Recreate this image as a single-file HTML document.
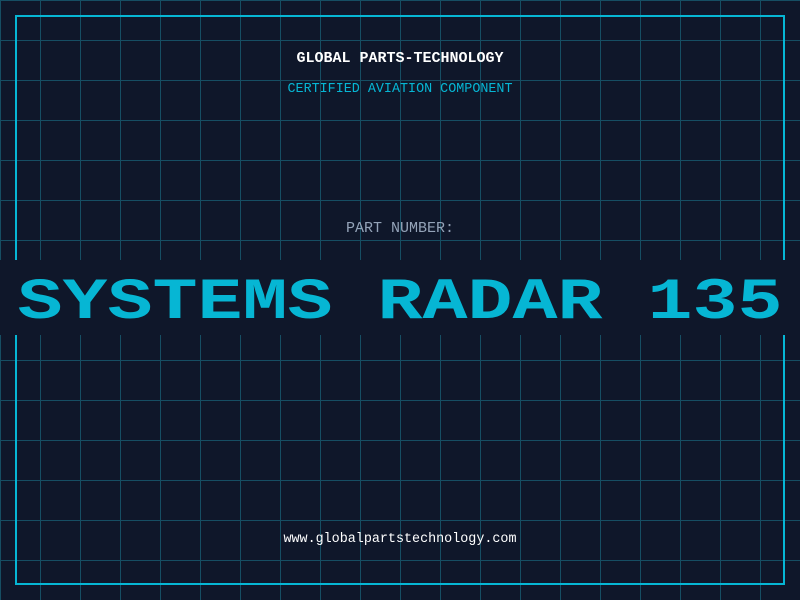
<!DOCTYPE html>
<html><head><meta charset="utf-8"><style>
html,body{margin:0;padding:0;}
body{width:800px;height:600px;background:#0f172a;position:relative;overflow:hidden;font-family:"Liberation Mono",monospace;}
.grid{position:absolute;inset:0;background-image:linear-gradient(to right,#164e63 0,#164e63 1px,transparent 1px),linear-gradient(to bottom,#164e63 0,#164e63 1px,transparent 1px);background-size:40px 40px;background-position:0 0;}
.border{position:absolute;left:15px;top:15px;width:766px;height:566px;border:2px solid #06b6d4;}
.t{position:absolute;left:0;width:800px;text-align:center;white-space:pre;}
.band{position:absolute;left:0;top:260px;width:800px;height:75px;background:#0f172a;}
</style></head><body>
<div class="grid"></div>
<div class="border"></div>
<div class="t" style="top:50px;font-size:15px;color:#ffffff;font-weight:bold;">GLOBAL PARTS-TECHNOLOGY</div>
<div class="t" style="top:82px;font-size:13.4px;color:#06b6d4;">CERTIFIED AVIATION COMPONENT</div>
<div class="t" style="top:220px;font-size:15px;color:#94a3b8;">PART NUMBER:</div>
<div class="band"></div>
<div class="t" style="top:252px;font-size:75px;line-height:90px;color:#06b6d4;font-weight:bold;transform:translateY(6px) scaleY(0.78);">SYSTEMS RADAR 135</div>
<div class="t" style="top:532px;font-size:13.4px;color:#ffffff;">www.globalpartstechnology.com</div>
</body></html>
